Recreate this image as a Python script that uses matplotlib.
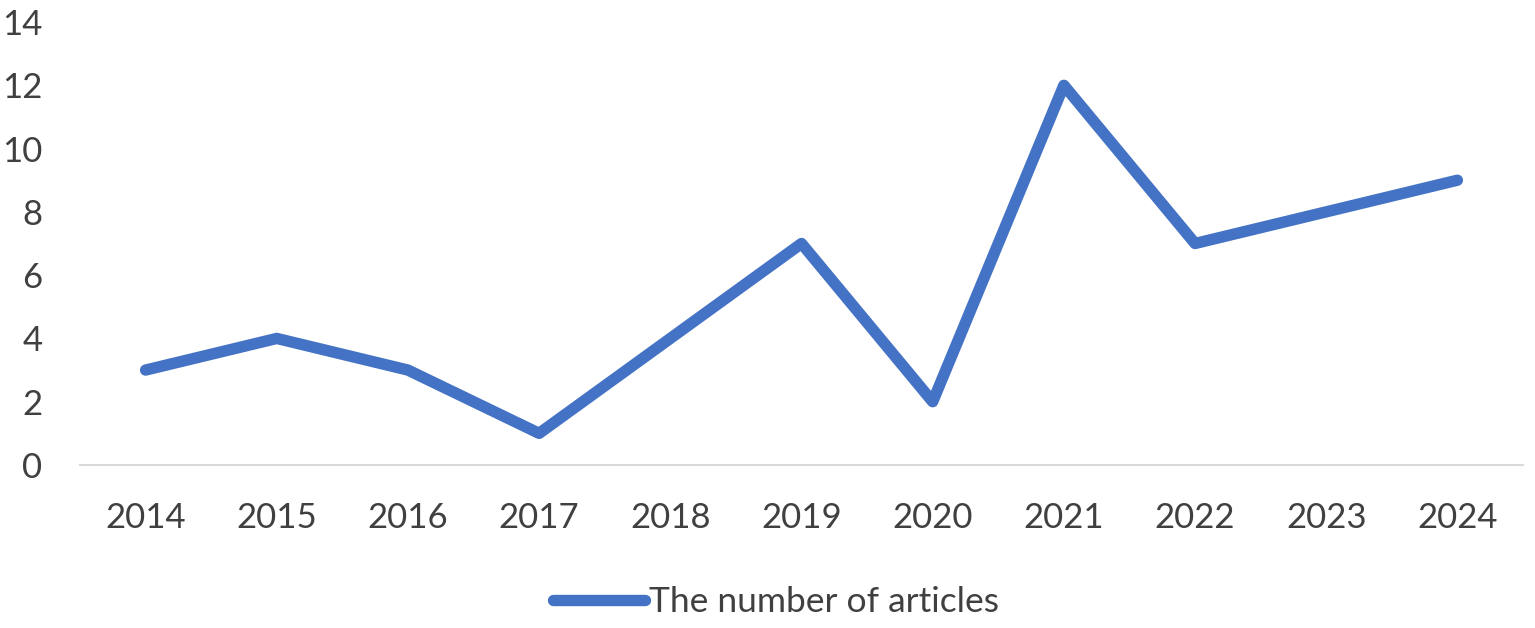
import matplotlib
matplotlib.use("Agg")
import matplotlib.pyplot as plt

plt.rcParams['font.family'] = ['Lato', 'DejaVu Sans']

years = ['2014', '2015', '2016', '2017', '2018', '2019', '2020', '2021', '2022', '2023', '2024']
articles = [3, 4, 3, 1, 4, 7, 2, 12, 7, 8, 9]
y_ticks = [0, 2, 4, 6, 8, 10, 12, 14]

LINE_COLOR = '#4472C4'
TEXT_COLOR = '#404040'


def main():
    fig = plt.figure(figsize=(15.35, 6.28), dpi=100)
    W, H = 1535, 628
    ax = fig.add_axes([80 / W, (H - 465) / H, (1523 - 80) / W, (465 - 22) / H])

    x = list(range(len(years)))
    ax.plot(x, articles, color=LINE_COLOR, linewidth=8.2,
            solid_capstyle='round', solid_joinstyle='round',
            label='The number of articles', clip_on=False)

    ax.set_xlim(-0.5, len(years) - 0.5)
    ax.set_ylim(0, 14)
    ax.set_xticks(x)
    ax.set_xticklabels(years)
    ax.set_yticks(y_ticks)

    for s in ['top', 'right', 'left']:
        ax.spines[s].set_visible(False)
    ax.spines['bottom'].set_color('#d9d9d9')
    ax.spines['bottom'].set_linewidth(1.5)

    ax.tick_params(axis='both', length=0, labelsize=25, colors=TEXT_COLOR)
    ax.tick_params(axis='y', pad=27)
    ax.tick_params(axis='x', pad=27)

    leg = fig.legend(loc='center', bbox_to_anchor=(776 / W, (H - 602) / H),
                     frameon=False, fontsize=25.5, handlelength=2.6,
                     handletextpad=0.1, labelcolor=TEXT_COLOR)
    for line in leg.get_lines():
        line.set_solid_capstyle('round')

    fig.savefig('out.png', dpi=100)
    plt.close(fig)


if __name__ == '__main__':
    main()
